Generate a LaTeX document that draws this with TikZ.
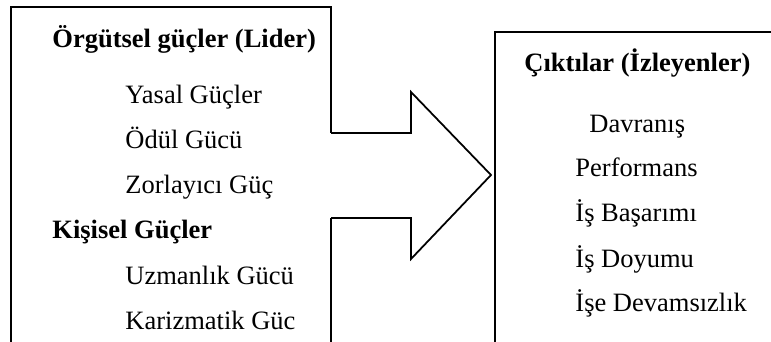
\documentclass[tikz,border=0pt]{standalone}
\usepackage{fontspec}
\setmainfont{Liberation Serif}
\usepackage{tikz}

\begin{document}
\begin{tikzpicture}[x=0.4528pt,y=-0.4528pt,
    every node/.style={inner sep=0pt,anchor=base west,font=\fontsize{12}{14}\selectfont},
    heading/.style={font=\fontsize{12}{14}\selectfont\bfseries},
    frame/.style={line width=0.8pt,line join=miter}]
    \useasboundingbox (0,0) rectangle (771,342);
    \clip (0,0) rectangle (771,342);

    % Left box (sources of power)
    \draw[frame] (331,133) -- (331,7) -- (11,7) -- (11,360);
    \draw[frame] (331,218) -- (331,360);

    % Block arrow
    \coordinate (shaftA) at (331,133);
    \coordinate (shaftB) at (331,218);
    \draw[frame] (shaftA) -- (411,133) -- (411,92) -- (491,175)
        -- (411,259) -- (411,218) -- (shaftB);

    % Right box (outcomes)
    \draw[frame] (790,32) -- (495,32) -- (495,360);

    % Left texts
    \node[heading] (orgut) at (52,48) {Örgütsel güçler (Lider)};
    \foreach \name/\y/\txt in {yasal/104/Yasal Güçler, odul/149/Ödül Gücü,
        zor/194/Zorlayıcı Güç, uzman/284/Uzmanlık Gücü, kariz/329/Karizmatik Güc} {
        \node (\name) at (125,\y) {\txt};
    }
    \node[heading] (kisisel) at (52,239) {Kişisel Güçler};

    % Right texts
    \node[heading] (cikti) at (524,72) {Çıktılar (İzleyenler)};
    \node (davranis) at (589,133) {Davranış};
    \foreach \name/\y/\txt in {perf/177/Performans, basari/222/İş Başarımı,
        doyum/267/İş Doyumu, devam/311/İşe Devamsızlık} {
        \node (\name) at (575,\y) {\txt};
    }
\end{tikzpicture}
\end{document}
